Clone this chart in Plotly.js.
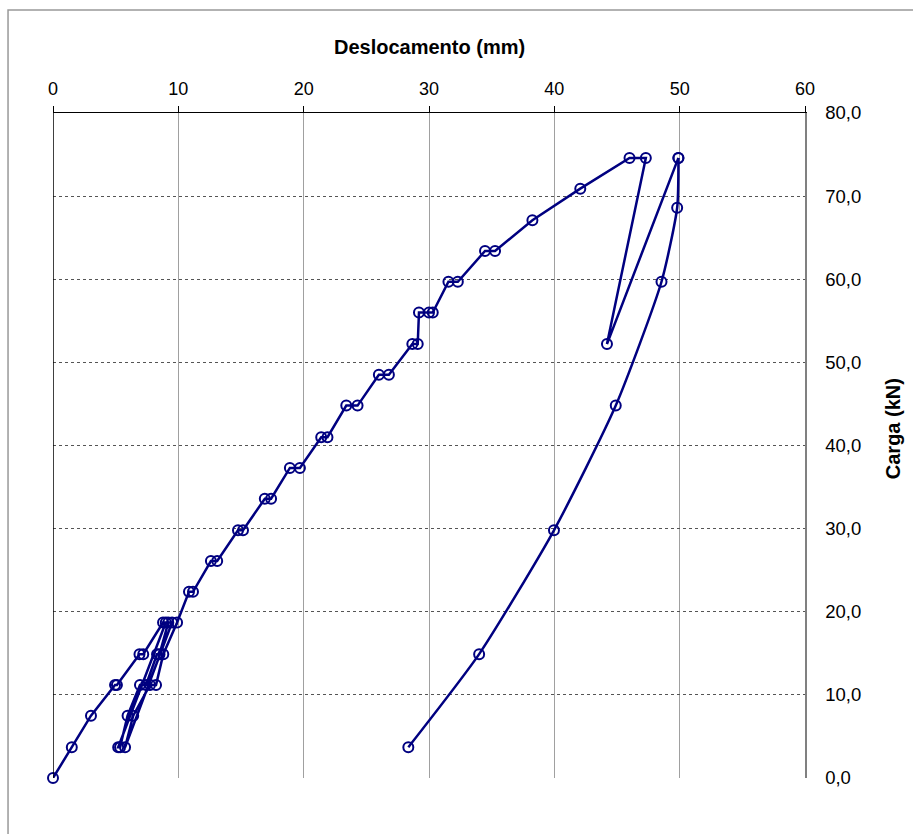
<!DOCTYPE html>
<html>
<head>
<meta charset="utf-8">
<script src="https://cdn.plot.ly/plotly-3.0.1.min.js"></script>
<style>html,body{margin:0;padding:0;background:#fff;}#chart{width:913px;height:834px;}</style>
</head>
<body>
<div id="chart"></div>
<script>
// Loading branch (displacement mm, load kN)
const loadDispl = [0, 1.5, 3.03, 4.95, 5.1, 6.9, 7.2, 8.78, 9.0,
  5.2, 5.35, 5.95, 6.94, 7.42, 8.3, 8.5, 9.2, 9.5,
  5.75, 6.4, 7.74, 8.22, 8.8, 9.9,
  10.85, 11.17, 12.6, 13.1, 14.76, 15.16, 16.9, 17.4, 18.9, 19.7,
  21.4, 21.9, 23.4, 24.3, 26.0, 26.8, 28.67, 29.1, 29.2, 30.0, 30.3,
  31.55, 32.3, 34.47, 35.27, 38.25, 42.07, 46.0, 47.3, 44.2, 49.9];
const loadForce = [0, 3.7, 7.5, 11.2, 11.2, 14.9, 14.9, 18.7, 18.7,
  3.7, 3.7, 7.5, 11.2, 11.2, 14.9, 14.9, 18.7, 18.7,
  3.7, 7.5, 11.2, 11.2, 14.9, 18.7,
  22.4, 22.4, 26.1, 26.1, 29.8, 29.8, 33.6, 33.6, 37.3, 37.3,
  41.0, 41.0, 44.8, 44.8, 48.5, 48.5, 52.2, 52.2, 56.0, 56.0, 56.0,
  59.7, 59.7, 63.4, 63.4, 67.1, 70.9, 74.6, 74.6, 52.2, 74.6];
// Unloading branch
const unloadDispl = [49.9, 49.8, 48.55, 44.9, 39.97, 34.0, 28.35];
const unloadForce = [74.6, 68.6, 59.7, 44.8, 29.8, 14.9, 3.7];

const xTicks = [0, 10, 20, 30, 40, 50, 60];
const yTicks = [0, 10, 20, 30, 40, 50, 60, 70, 80];
const xTitle = 'Deslocamento (mm)';
const yTitle = 'Carga (kN)';

const navy = '#000080';
const mk = {symbol: 'circle-open', size: 10, color: navy, line: {width: 2, color: navy}};

const traces = [
  {x: loadDispl, y: loadForce, type: 'scatter', mode: 'lines+markers',
   line: {color: navy, width: 2.5}, marker: mk, showlegend: false, cliponaxis: false},
  {x: unloadDispl, y: unloadForce, type: 'scatter', mode: 'lines+markers',
   line: {color: navy, width: 2.5, shape: 'spline', smoothing: 0.6}, marker: mk, showlegend: false, cliponaxis: false}
];

const layout = {
  width: 913, height: 834,
  margin: {l: 53, r: 108, t: 113, b: 56},
  paper_bgcolor: '#fff', plot_bgcolor: '#fff',
  separators: ',.',
  font: {family: 'Liberation Sans, Arial, sans-serif', color: '#000'},
  showlegend: false,
  xaxis: {
    side: 'top', range: [0, 60], tickvals: xTicks, ticktext: xTicks.map(String),
    showgrid: true, gridcolor: '#a0a0a0', gridwidth: 1,
    showline: true, linecolor: '#000', linewidth: 1.5,
    ticks: 'outside', ticklen: 6, tickcolor: '#000', tickwidth: 1,
    zeroline: false, ticklabelstandoff: 3,
    tickfont: {family: 'Liberation Sans, Arial', size: 18, color: '#000'}
  },
  yaxis: {
    side: 'right', range: [0, 80], tickvals: yTicks, ticktext: yTicks.map(v => v.toFixed(1).replace('.', ',')),
    showgrid: true, gridcolor: '#555', gridwidth: 1, griddash: 'dot',
    showline: true, linecolor: '#808080', linewidth: 1.5,
    ticks: '', zeroline: false,
    ticklabelstandoff: 15,
    tickfont: {family: 'Liberation Sans, Arial', size: 18.5, color: '#000'}
  },
  annotations: [
    {text: '<b>' + xTitle + '</b>', xref: 'paper', yref: 'paper', x: 0.5, y: 1.099, showarrow: false,
     xanchor: 'center', yanchor: 'middle', font: {family: 'Liberation Sans, Arial', size: 20, color: '#000'}},
    {text: '<b>' + yTitle + '</b>', xref: 'paper', yref: 'paper', x: 1.117, y: 0.526, showarrow: false,
     textangle: -90, xanchor: 'center', yanchor: 'middle', font: {family: 'Liberation Sans, Arial', size: 20, color: '#000'}}
  ],
  shapes: [
    {type: 'line', xref: 'x', yref: 'paper', x0: 0, x1: 0, y0: 0, y1: 1, line: {color: '#000', width: 1.5}},
    {type: 'rect', xref: 'paper', yref: 'paper', x0: -0.0598, x1: 1.16, y0: -0.1, y1: 1.1549, line: {color: '#999', width: 1.5}, fillcolor: 'rgba(0,0,0,0)', layer: 'below'}
  ]
};

Plotly.newPlot('chart', traces, layout, {displayModeBar: false, staticPlot: true});
</script>
</body>
</html>
